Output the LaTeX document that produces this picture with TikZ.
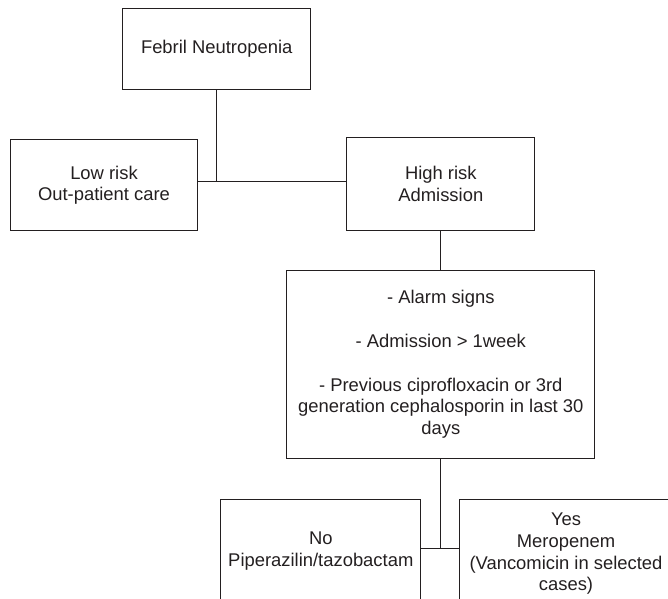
\documentclass[tikz,border=0pt]{standalone}
\usepackage{fontspec}
\setmainfont{Liberation Sans}
\usepackage{tikz}
\definecolor{ink}{RGB}{35,31,32}

\begin{document}
\begin{tikzpicture}[x=1pt, y=-1pt, line width=1pt, draw=ink, text=ink,
        box/.style={draw, align=center, inner sep=0pt,
            font=\fontsize{18.4}{21.7}\selectfont}]
        \useasboundingbox (0,0) rectangle (668,598);
        \clip (0,0) rectangle (668,598);
        \node at (216.7, 48.5) [box, minimum width=187.5pt, minimum height=81pt] (fn) {Febril Neutropenia};
        \node at (104, 185.3) [box, minimum width=186.6pt, minimum height=90.7pt] (low) {Low risk\\Out-patient care};
        \node at (440.8, 184) [box, minimum width=188.3pt, minimum height=93.4pt] (high) {High risk\\Admission};
        \node at (440.8, 364.5) [box, minimum width=308.3pt, minimum height=187.6pt] (alarm)
            {- Alarm signs\\[22pt]- Admission > 1week\\[22pt]- Previous ciprofloxacin or 3rd\\generation cephalosporin in last 30\\days};
        \node at (320.8, 551) [box, minimum width=200.3pt, minimum height=104pt] (no) {No\\Piperazilin/tazobactam};
        \node at (566, 554) [box, minimum width=213.4pt, minimum height=110pt] (yes) {Yes\\Meropenem\\(Vancomicin in selected\\cases)};
        \coordinate (j1) at (216.7, 181);
        \coordinate (j2) at (440.8, 548.3);
        \draw (fn.south) -- (j1);
        \draw (low.east |- j1) -- (high.west |- j1);
        \draw (high.south) -- (alarm.north);
        \draw (alarm.south) -- (j2);
        \draw (no.east |- j2) -- (yes.west |- j2);
    \end{tikzpicture}
\end{document}
